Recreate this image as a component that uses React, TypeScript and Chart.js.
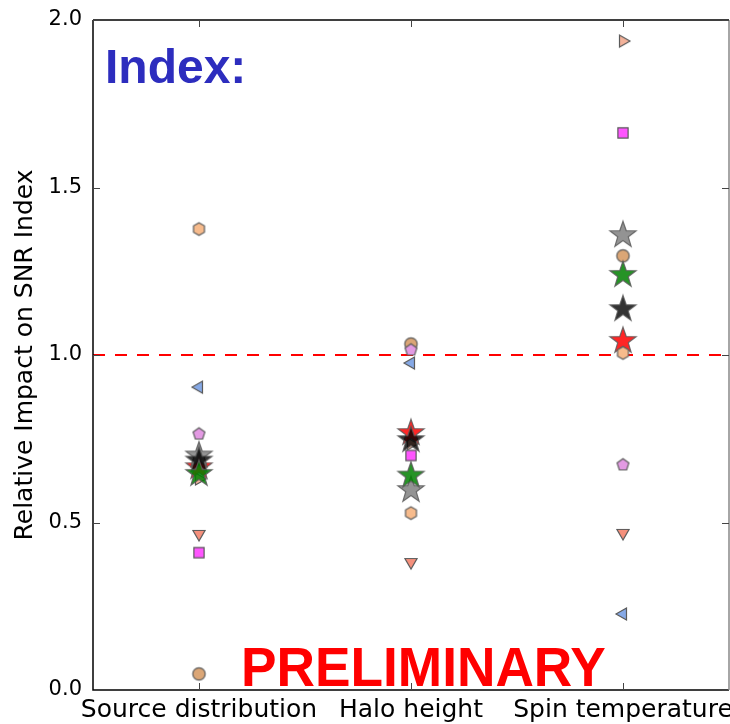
import React, { useEffect, useRef } from "react";
import { Chart, registerables } from "chart.js";

Chart.register(...registerables);

const categories = ["Source distribution", "Halo height", "Spin temperature"];
const categoryPositions = [1, 2, 3];
const yTickValues = [0, 0.5, 1.0, 1.5, 2.0];
const referenceLevel = 1.0;

// marker series (one value per category)
const circleTan = [0.048, 1.033, 1.296];
const triLeftBlue = [0.904, 0.976, 0.227];
const triDownSalmon = [0.466, 0.382, 0.469];
const pentagonViolet = [0.764, 1.015, 0.672];
const squareMagenta = [0.41, 0.70, 1.663];
const triRightPeach = [0.63, 0.735, 1.937];
const starRed = [0.665, 0.767, 1.042];
const hexagonPeach = [1.376, 0.528, 1.006];
const starGray = [0.70, 0.597, 1.358];
const starBlack = [0.685, 0.746, 1.137];
const starGreen = [0.645, 0.64, 1.239];

type Shape = "circle" | "hexagon" | "pentagon" | "star" | "square" | "triLeft" | "triRight" | "triDown";

function makeMarker(shape: Shape, r: number, fill: string, stroke: string, alpha: number): HTMLCanvasElement {
  const size = Math.ceil(r * 2 + 4);
  const c = document.createElement("canvas");
  c.width = size;
  c.height = size;
  const ctx = c.getContext("2d")!;
  const cx = size / 2;
  const cy = size / 2;
  ctx.globalAlpha = alpha;
  ctx.beginPath();
  const poly = (n: number, rad: number, start: number) => {
    for (let i = 0; i < n; i++) {
      const a = start + (i * 2 * Math.PI) / n;
      const x = cx + rad * Math.cos(a);
      const y = cy + rad * Math.sin(a);
      if (i === 0) ctx.moveTo(x, y);
      else ctx.lineTo(x, y);
    }
    ctx.closePath();
  };
  switch (shape) {
    case "circle":
      ctx.arc(cx, cy, r, 0, Math.PI * 2);
      break;
    case "hexagon":
      poly(6, r, -Math.PI / 2);
      break;
    case "pentagon":
      poly(5, r, -Math.PI / 2);
      break;
    case "square":
      ctx.rect(cx - r * 0.85, cy - r * 0.85, r * 1.7, r * 1.7);
      break;
    case "triLeft":
      poly(3, r, Math.PI);
      break;
    case "triRight":
      poly(3, r, 0);
      break;
    case "triDown":
      poly(3, r, Math.PI / 2);
      break;
    case "star": {
      const inner = r * 0.4;
      for (let i = 0; i < 10; i++) {
        const a = -Math.PI / 2 + (i * Math.PI) / 5;
        const rad = i % 2 === 0 ? r : inner;
        const x = cx + rad * Math.cos(a);
        const y = cy + rad * Math.sin(a);
        if (i === 0) ctx.moveTo(x, y);
        else ctx.lineTo(x, y);
      }
      ctx.closePath();
      break;
    }
  }
  ctx.fillStyle = fill;
  ctx.fill();
  ctx.lineWidth = 1.2;
  ctx.strokeStyle = stroke;
  ctx.stroke();
  return c;
}

const CANVAS_W = 770;
const CANVAS_H = 724;
const PLOT_LEFT = 93;
const PLOT_TOP = 20;
const PLOT_BOTTOM = 690;
const PLOT_RIGHT = 729;

const framePlugin = {
  id: "frameAndText",
  afterDatasetsDraw(chart: any) {
    const ctx = chart.ctx;
    const { left, right, top, bottom } = chart.chartArea;
    const xs = chart.scales.x;
    const ys = chart.scales.y;
    ctx.save();
    // frame
    ctx.strokeStyle = "#000";
    ctx.lineWidth = 1.5;
    ctx.beginPath();
    ctx.moveTo(left, top);
    ctx.lineTo(left, bottom);
    ctx.lineTo(right, bottom);
    ctx.moveTo(left, top);
    ctx.lineTo(right, top);
    ctx.stroke();
    ctx.strokeStyle = "#888";
    ctx.beginPath();
    ctx.moveTo(right, top);
    ctx.lineTo(right, bottom);
    ctx.stroke();
    // inward ticks
    ctx.lineWidth = 1;
    ctx.strokeStyle = "#444";
    const tl = 7;
    ctx.beginPath();
    yTickValues.forEach((v) => {
      const py = Math.round(ys.getPixelForValue(v)) + 0.5;
      ctx.moveTo(left, py);
      ctx.lineTo(left + tl, py);
      ctx.moveTo(right, py);
      ctx.lineTo(right - tl, py);
    });
    categoryPositions.forEach((v) => {
      const px = Math.round(xs.getPixelForValue(v)) + 0.5;
      ctx.moveTo(px, bottom);
      ctx.lineTo(px, bottom - tl);
      ctx.moveTo(px, top);
      ctx.lineTo(px, top + tl);
    });
    ctx.stroke();
    // annotations
    ctx.fillStyle = "#2d2dbe";
    ctx.font = "bold 48px 'Liberation Sans', Arial, sans-serif";
    ctx.textBaseline = "alphabetic";
    ctx.textAlign = "left";
    ctx.fillText("Index:", 105, 83);
    ctx.fillStyle = "#ff0000";
    ctx.font = "bold 54px 'Liberation Sans', Arial, sans-serif";
    ctx.translate(241, 686);
    ctx.scale(0.986, 1.035);
    ctx.fillText("PRELIMINARY", 0, 0);
    ctx.restore();
  },
};

export default function App() {
  const ref = useRef<HTMLCanvasElement | null>(null);
  useEffect(() => {
    document.body.style.margin = "0";
    const canvas = ref.current!;
    const edge = "#5a5a5a";
    const series: { data: number[]; shape: Shape; r: number; fill: string; alpha: number }[] = [
      { data: circleTan, shape: "circle", r: 6.2, fill: "#dba676", alpha: 1 },
      { data: triLeftBlue, shape: "triLeft", r: 7, fill: "#86a9e6", alpha: 1 },
      { data: triDownSalmon, shape: "triDown", r: 7, fill: "#f5907c", alpha: 1 },
      { data: pentagonViolet, shape: "pentagon", r: 6.2, fill: "#e39ae3", alpha: 1 },
      { data: squareMagenta, shape: "square", r: 6, fill: "#ff55ff", alpha: 1 },
      { data: triRightPeach, shape: "triRight", r: 7, fill: "#f3b29a", alpha: 1 },
      { data: starRed, shape: "star", r: 13.8, fill: "#ff0000", alpha: 0.85 },
      { data: hexagonPeach, shape: "hexagon", r: 6.3, fill: "#f7bb8c", alpha: 1 },
      { data: starGray, shape: "star", r: 13.8, fill: "#808080", alpha: 0.85 },
      { data: starBlack, shape: "star", r: 13.8, fill: "#000000", alpha: 0.8 },
      { data: starGreen, shape: "star", r: 13.8, fill: "#008000", alpha: 0.85 },
    ];
    const n = series.length;
    const datasets: any[] = series.map((s, i) => {
      const img = makeMarker(s.shape, s.r, s.fill, edge, s.alpha);
      return {
        type: "scatter",
        data: s.data.map((v, k) => ({ x: categoryPositions[k], y: v })),
        pointStyle: img,
        pointRadius: s.r,
        pointHoverRadius: s.r,
        showLine: false,
        order: n - i + 1,
      };
    });
    datasets.push({
      type: "line",
      data: [
        { x: 0.5, y: referenceLevel },
        { x: 3.5, y: referenceLevel },
      ],
      borderColor: "#ff0000",
      borderWidth: 2,
      borderDash: [12, 10],
      pointRadius: 0,
      fill: false,
      order: n + 5,
    });

    const chart = new Chart(canvas, {
      type: "scatter",
      data: { datasets },
      options: {
        animation: false,
        responsive: false,
        devicePixelRatio: 1,
        layout: { padding: { left: 0, top: PLOT_TOP, right: CANVAS_W - PLOT_RIGHT, bottom: 0 } },
        plugins: { legend: { display: false }, tooltip: { enabled: false } },
        scales: {
          x: {
            type: "linear",
            min: 0.5,
            max: 3.5,
            grid: { display: false, drawTicks: false },
            border: { display: false },
            afterBuildTicks: (scale: any) => {
              scale.ticks = categoryPositions.map((v) => ({ value: v }));
            },
            afterFit: (scale: any) => {
              scale.height = CANVAS_H - PLOT_BOTTOM;
              scale.paddingLeft = 0;
              scale.paddingRight = 0;
            },
            ticks: {
              autoSkip: false,
              maxRotation: 0,
              minRotation: 0,
              padding: 5,
              color: "#000",
              font: { family: "'DejaVu Sans'", size: 25 },
              callback: (v: any) => {
                const i = categoryPositions.indexOf(Number(v));
                return i >= 0 ? categories[i] : "";
              },
            },
          },
          y: {
            type: "linear",
            min: 0,
            max: 2,
            grid: { display: false, drawTicks: false },
            border: { display: false },
            afterBuildTicks: (scale: any) => {
              scale.ticks = yTickValues.map((v) => ({ value: v }));
            },
            afterFit: (scale: any) => {
              scale.width = PLOT_LEFT;
              scale.paddingTop = 0;
              scale.paddingBottom = 0;
            },
            title: {
              display: true,
              text: "Relative Impact on SNR Index",
              color: "#000",
              font: { family: "'DejaVu Sans'", size: 25 },
              padding: { top: 10, bottom: 0 },
            },
            ticks: {
              padding: 11,
              color: "#000",
              font: { family: "'DejaVu Sans'", size: 21 },
              callback: (v: any) => Number(v).toFixed(1),
            },
          },
        },
      },
      plugins: [framePlugin],
    } as any);
    return () => chart.destroy();
  }, []);

  return (
    <div style={{ position: "fixed", left: 0, top: 0, width: 730, height: CANVAS_H, overflow: "hidden", background: "#fff" }}>
      <canvas ref={ref} width={CANVAS_W} height={CANVAS_H} style={{ display: "block" }} />
    </div>
  );
}
